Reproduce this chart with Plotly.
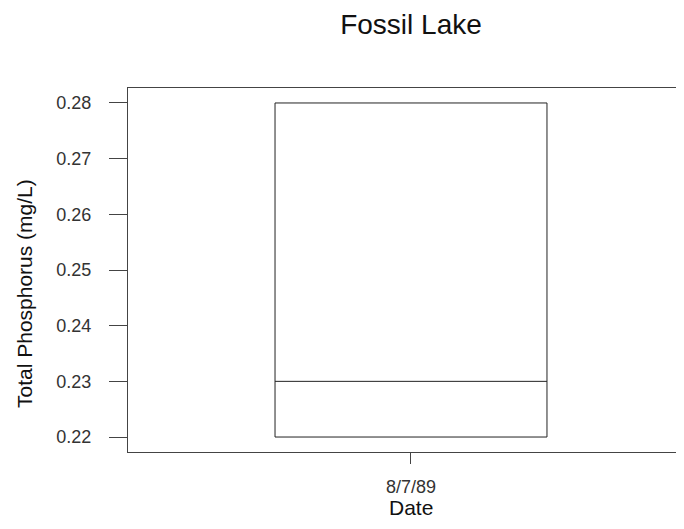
import plotly.graph_objects as go

dates = ["8/7/89"]
q1 = [0.22]
median = [0.23]
q3 = [0.28]
lowerfence = [0.22]
upperfence = [0.28]
ytickvals = [0.22, 0.23, 0.24, 0.25, 0.26, 0.27, 0.28]

FONT = "Arial, Liberation Sans, sans-serif"
W, H = 676, 513  # page body has 8px margins
ML, MT, MB = 120, 80, 69
PW, PH = W - ML, H - MT - MB

fig = go.Figure()
fig.add_trace(go.Box(
    x=dates, q1=q1, median=median, q3=q3,
    lowerfence=lowerfence, upperfence=upperfence,
    width=0.961, fillcolor="white",
    line=dict(color="#222222", width=1),
    whiskerwidth=0, boxpoints=False, showlegend=False,
))

fig.update_layout(
    width=W, height=H,
    margin=dict(l=ML, r=0, t=MT, b=MB),
    paper_bgcolor="white", plot_bgcolor="white",
    font=dict(family=FONT, color="#222222"),
    title=dict(text="Fossil Lake", x=403 / W, xanchor="center",
               y=1 - 16 / H, yanchor="middle",
               font=dict(family=FONT, size=28, color="#111111")),
    xaxis=dict(
        type="category", range=[-1, 0.9647],
        showline=True, linecolor="#444444", linewidth=1.3, mirror=True,
        ticks="outside", ticklen=11, tickcolor="#444444", tickwidth=1,
        showgrid=False, zeroline=False, ticklabelstandoff=7,
        tickfont=dict(size=18, color="#333333"),
    ),
    yaxis=dict(
        range=[0.21731, 0.28269],
        tickvals=ytickvals, ticktext=[f"{v:.2f}" for v in ytickvals],
        showline=True, linecolor="#444444", linewidth=1.3, mirror=False,
        ticks="outside", ticklen=18, tickcolor="#444444", tickwidth=1,
        showgrid=False, zeroline=False, ticklabelstandoff=14,
        tickfont=dict(size=18, color="#333333"),
    ),
    annotations=[
        dict(text="Date", xref="x", x=dates[0], yref="paper",
             y=-(499.5 - (H - MB)) / PH, xanchor="center", yanchor="middle",
             showarrow=False, font=dict(size=21, color="#111111")),
        dict(text="Total Phosphorus (mg/L)", xref="paper", x=(16 - ML) / PW,
             yref="paper", y=((H - MB) - 286) / PH, textangle=-90,
             xanchor="center", yanchor="middle",
             showarrow=False, font=dict(size=21, color="#111111")),
    ],
)

fig.write_html("out.html")
